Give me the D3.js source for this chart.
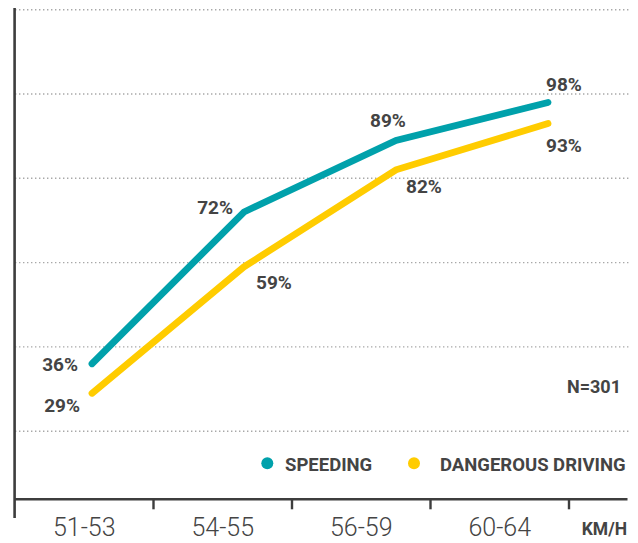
<!DOCTYPE html>
<html>
<head>
<meta charset="utf-8">
<script src="https://cdn.jsdelivr.net/npm/d3@7"></script>
<style>
  html, body { margin: 0; padding: 0; background: #fff; }
  svg { display: block; }
  text { font-family: Roboto, "Open Sans", "DejaVu Sans", sans-serif; fill: #444; }
</style>
</head>
<body>
<svg id="chart" width="638" height="543"></svg>
<script>
// Speed bands on the x axis
const categories = ["51-53", "54-55", "56-59", "60-64"];
// Share of respondents (%) per speed band
const speeding = [36, 72, 89, 98];
const dangerous = [29, 59, 82, 93];
const seriesNames = ["SPEEDING", "DANGEROUS DRIVING"];
const gridTicks = [20, 40, 60, 80, 100, 120];
const sampleNote = "N=301";
const unitLabel = "KM/H";

const svg = d3.select("#chart");

const colors = { speeding: "#00A1AB", dangerous: "#FFCC00" };

// Scales
const xBand = d3.scaleBand().domain(categories).range([15, 569]).padding(0);
const xLine = d3.scalePoint().domain(categories).range([92, 548]);
const y = d3.scaleLinear().domain([0, 120]).range([515.5, 9.7]);

// Dotted gridlines
svg.append("g")
  .selectAll("line")
  .data(gridTicks)
  .join("line")
  .attr("x1", 15).attr("x2", 630)
  .attr("y1", d => y(d)).attr("y2", d => y(d))
  .attr("stroke", "#a8a8a8")
  .attr("stroke-width", 1.4)
  .attr("stroke-dasharray", "1.4 2.6");

// X axis with band boundary ticks
const axisY = 499.3;
const xAxis = svg.append("g").attr("transform", `translate(0,${axisY})`)
  .call(d3.axisBottom(xBand).tickSize(0).tickPadding(0));
xAxis.select(".domain").remove();
xAxis.selectAll(".tick text")
  .attr("dy", 0)
  .attr("y", 36.5)
  .style("font-size", "25px")
  .style("font-weight", 300)
  .style("font-family", "Roboto, sans-serif")
  .attr("fill", "#444");

svg.append("line")
  .attr("x1", 14).attr("x2", 627.5)
  .attr("y1", axisY).attr("y2", axisY)
  .attr("stroke", "#3d3d3d").attr("stroke-width", 2.6);

const bounds = categories.slice(1).map(c => xBand(c)).concat([xBand.range()[1]]);
svg.append("g").selectAll("line")
  .data(bounds)
  .join("line")
  .attr("x1", d => d).attr("x2", d => d)
  .attr("y1", axisY).attr("y2", axisY + 10)
  .attr("stroke", "#3d3d3d").attr("stroke-width", 2.4);

// Y axis spine
svg.append("line")
  .attr("x1", 14.6).attr("x2", 14.6)
  .attr("y1", 8).attr("y2", 518)
  .attr("stroke", "#3d3d3d").attr("stroke-width", 2.6);

// Lines
const line = d3.line()
  .x((d, i) => xLine(categories[i]))
  .y(d => y(d));

[[dangerous, colors.dangerous], [speeding, colors.speeding]].forEach(([vals, col]) => {
  svg.append("path")
    .datum(vals)
    .attr("d", line)
    .attr("fill", "none")
    .attr("stroke", col)
    .attr("stroke-width", 6.8)
    .attr("stroke-linecap", "round")
    .attr("stroke-linejoin", "miter");
});

// Value labels; per-point placement around each vertex
const labelFont = "19px";
const speedPlace = [
  { dx: -14, dy: 7, anchor: "end" },
  { dx: -11, dy: 2, anchor: "end" },
  { dx: -8, dy: -13, anchor: "middle" },
  { dx: 16, dy: -11, anchor: "middle" }
];
const dangerPlace = [
  { dx: -12, dy: 19, anchor: "end" },
  { dx: 12, dy: 22, anchor: "start" },
  { dx: 10, dy: 23, anchor: "start" },
  { dx: 16, dy: 28.5, anchor: "middle" }
];
function drawLabels(vals, place) {
  svg.append("g").selectAll("text")
    .data(vals)
    .join("text")
    .attr("x", (d, i) => xLine(categories[i]) + place[i].dx)
    .attr("y", (d, i) => y(d) + place[i].dy)
    .attr("text-anchor", (d, i) => place[i].anchor)
    .style("font-size", labelFont)
    .style("font-weight", 700)
    .text(d => d + "%");
}
drawLabels(speeding, speedPlace);
drawLabels(dangerous, dangerPlace);

// Sample size note
svg.append("text")
  .attr("x", 621).attr("y", 393)
  .attr("text-anchor", "end")
  .style("font-size", "18px").style("font-weight", 700)
  .text(sampleNote);

// Legend
const legend = svg.append("g");
const legendItems = [
  { name: seriesNames[0], color: colors.speeding, cx: 267.3, tx: 285 },
  { name: seriesNames[1], color: colors.dangerous, cx: 414, tx: 440 }
];
legend.selectAll("circle")
  .data(legendItems)
  .join("circle")
  .attr("cx", d => d.cx).attr("cy", 463.3).attr("r", 6)
  .attr("fill", d => d.color);
legend.selectAll("text")
  .data(legendItems)
  .join("text")
  .attr("x", d => d.tx).attr("y", 471)
  .style("font-size", "18.5px").style("font-weight", 700)
  .text(d => d.name);

// Unit label
svg.append("text")
  .attr("x", 627).attr("y", 535)
  .attr("text-anchor", "end")
  .style("font-size", "17.5px").style("font-weight", 700)
  .text(unitLabel);
</script>
</body>
</html>
